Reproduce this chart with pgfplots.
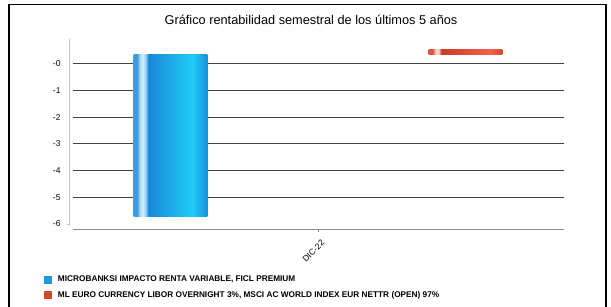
\documentclass[border=0pt]{standalone}
\usepackage{pgfplots}
\pgfplotsset{compat=1.18}
\usepackage{fontspec}
\setmainfont{Liberation Sans}
\definecolor{b1}{HTML}{3A9EE0}
\definecolor{b2}{HTML}{9FD6F2}
\definecolor{b3}{HTML}{D8EFFA}
\definecolor{b4}{HTML}{1888D8}
\definecolor{b5}{HTML}{20CCF8}
\definecolor{b6}{HTML}{1890DC}
\definecolor{r1}{HTML}{D65844}
\definecolor{r2}{HTML}{F4D0C8}
\definecolor{r3}{HTML}{C83C28}
\definecolor{r4}{HTML}{F06448}
\definecolor{r5}{HTML}{D84A32}
\definecolor{legblue}{HTML}{1C9BE0}
\definecolor{legred}{HTML}{D04430}
\definecolor{gridc}{HTML}{404040}
\definecolor{yaxc}{HTML}{C4C4C4}
\definecolor{xaxc}{HTML}{8A8A8A}
\pgfdeclarehorizontalshading{blueshade}{100bp}{color(0bp)=(b1); color(25bp)=(b1); color(27.5bp)=(b1); color(29bp)=(b2); color(31bp)=(b3); color(33bp)=(b2); color(35bp)=(b4); color(65bp)=(b5); color(75bp)=(b6); color(100bp)=(b6)}
\pgfdeclarehorizontalshading{redshade}{100bp}{color(0bp)=(r1); color(25bp)=(r1); color(28bp)=(r1); color(29.5bp)=(r2); color(32bp)=(r2); color(33.5bp)=(r3); color(67bp)=(r4); color(75bp)=(r5); color(100bp)=(r5)}
\pgfplotstableread{
x y
-1 -6.04
}\blueTable
\pgfplotstableread{
x y
1 0.2
}\redTable
\begin{document}
\begin{tikzpicture}
\path[use as bounding box] (0,0) rectangle (611bp,-307bp);
\fill[white] (0,0) rectangle (611bp,-307bp);
\draw[line width=1.3bp] (9bp,-307bp) -- (9bp,-4.7bp) -- (606bp,-4.7bp) -- (606bp,-307bp);
\begin{axis}[
  at={(69bp,-229.3bp)}, anchor=south west,
  scale only axis, width=495bp, height=190.3bp,
  xmin=-1.688, xmax=1.668, ymin=-6.534, ymax=0.588,
  axis line style={draw=none},
  major tick length=0pt,
  xtick={0}, xticklabels={DIC-22},
  ytick={-0.337,-1.337,-2.337,-3.337,-4.337,-5.337,-6.337},
  yticklabels={-0,-1,-2,-3,-4,-5,-6},
  /pgf/number format/assume math mode=true,
  yticklabel style={font=\fontsize{8.5}{10}\selectfont, inner sep=0pt, xshift=-8.3bp},
  xticklabel style={font=\fontsize{8.5}{10}\selectfont, rotate=45, anchor=north east, inner sep=0pt, xshift=-5bp, yshift=-9bp},
  title={Gráfico rentabilidad semestral de los últimos 5 años},
  title style={at={(0.489,1.068)}, anchor=center, font=\fontsize{12.8}{14}\selectfont, inner sep=0pt},
  legend style={at={(-0.0505,-0.244)}, anchor=north west, draw=none, fill=none,
    font=\fontsize{8.3}{10}\selectfont\bfseries, inner sep=0pt, outer sep=0pt,
    row sep=7.6bp, column sep=6bp,
    nodes={inner sep=0pt, text height=6bp, text depth=2bp}},
  legend cell align=left,
  clip=false,
]
\draw[gridc, line width=0.9bp] (axis cs:-1.661,-0.337) -- (axis cs:1.668,-0.337);
\draw[gridc, line width=0.9bp] (axis cs:-1.661,-1.337) -- (axis cs:1.668,-1.337);
\draw[gridc, line width=0.9bp] (axis cs:-1.661,-2.337) -- (axis cs:1.668,-2.337);
\draw[gridc, line width=0.9bp] (axis cs:-1.661,-3.337) -- (axis cs:1.668,-3.337);
\draw[gridc, line width=0.9bp] (axis cs:-1.661,-4.337) -- (axis cs:1.668,-4.337);
\draw[gridc, line width=0.9bp] (axis cs:-1.661,-5.337) -- (axis cs:1.668,-5.337);
\draw[yaxc, line width=0.8bp] (axis cs:-1.688,0.588) -- (axis cs:-1.688,-6.337) -- ([xshift=-2.5bp]axis cs:-1.688,-6.337);
\draw[xaxc, line width=0.8bp] (axis cs:-1.661,-6.534) -- (axis cs:1.668,-6.534);
\draw[xaxc, line width=0.6bp] (axis cs:0,-6.534) -- ([yshift=-3bp]axis cs:0,-6.534);
\addplot[ybar, bar width=0.5, bar shift=0pt, draw=none, shading=blueshade,
  legend image code/.code={\fill[legblue, shade=false] (0bp,-4bp) rectangle (8bp,4bp);}]
  table[x=x,y=y] {\blueTable};
\addlegendentry{MICROBANKSI IMPACTO RENTA VARIABLE, FICL PREMIUM}
\addplot[ybar, bar width=0.5, bar shift=0pt, draw=none, shading=redshade,
  legend image code/.code={\fill[legred, shade=false] (0bp,-4bp) rectangle (8bp,4bp);}]
  table[x=x,y=y] {\redTable};
\addlegendentry{ML EURO CURRENCY LIBOR OVERNIGHT 3\%, MSCI AC WORLD INDEX EUR NETTR (OPEN) 97\%}
\end{axis}
\end{tikzpicture}
\end{document}
